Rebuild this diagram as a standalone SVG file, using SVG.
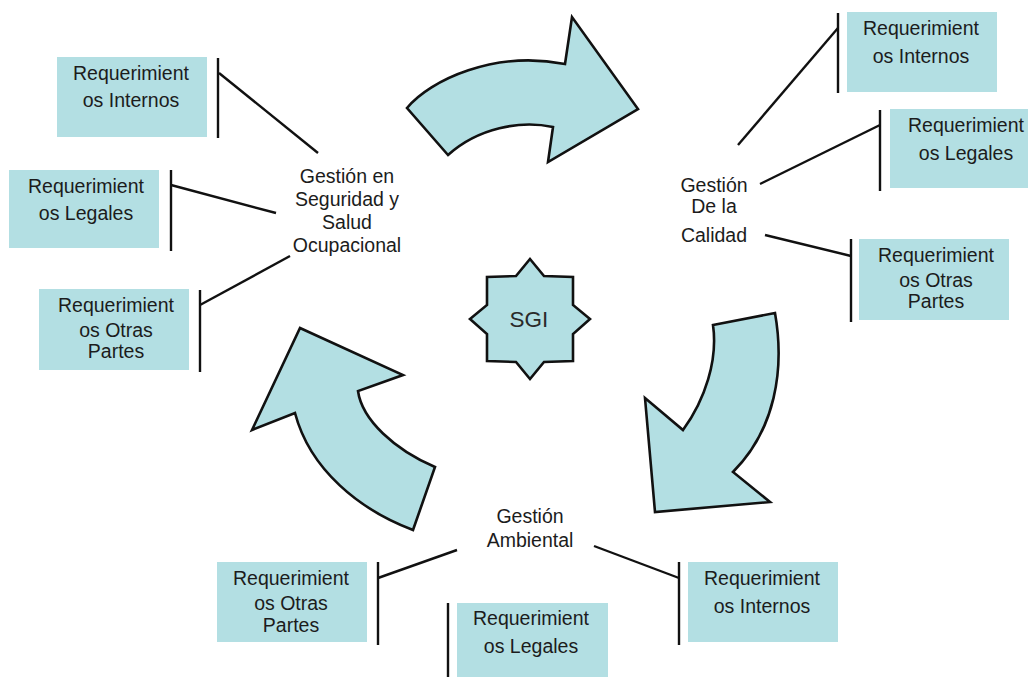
<svg xmlns="http://www.w3.org/2000/svg" width="1028" height="677" viewBox="0 0 1028 677">
<style>
.box{fill:#b3dfe3;}
.shape{fill:#b3dfe3;stroke:#111;stroke-width:2.6;stroke-linejoin:miter;}
.ln{stroke:#111;stroke-width:2.4;fill:none;stroke-linecap:butt;}
.t{font-family:"Liberation Sans",Arial,sans-serif;font-size:19.5px;fill:#1c1c1c;text-anchor:middle;}
.sgi{font-family:"Liberation Sans",Arial,sans-serif;font-size:22.5px;fill:#2a2a2a;text-anchor:middle;}
</style>
<rect width="1028" height="677" fill="#ffffff"/>
<g id="arrows">
<path id="arrow-top" class="shape" d="M407,108 C430,80 495,50 565,64 L572,17 L638,109 L548,162 L553,127 C520,120 478,128 448,155 Z"/>
<path id="arrow-right" class="shape" d="M713,325 L775,313 C785,370 775,430 733,472 L770,502 L655,512 L645,398 L683,430 C705,400 718,360 713,325 Z"/>
<path id="arrow-left" class="shape" d="M300,328 L403,375 L358,391 C362,420 395,450 435,467 L413,530 C360,510 310,470 295,413 L252,430 Z"/>
</g>
<g id="sgi">
<polygon class="shape" points="530,259 544,276 573,277 573,305 590,319 573,334 573,361 544,362 530,379 516,362 487,361 487,334 470,319 487,305 487,277 516,276"/>
<text class="sgi" x="529" y="327">SGI</text>
</g>
<g id="connectors">
<line class="ln" x1="218" y1="58" x2="218" y2="138"/>
<line class="ln" x1="219" y1="73" x2="318" y2="153"/>
<line class="ln" x1="171" y1="170" x2="171" y2="251"/>
<line class="ln" x1="171" y1="185" x2="276" y2="213"/>
<line class="ln" x1="200" y1="290" x2="200" y2="372"/>
<line class="ln" x1="200" y1="305" x2="290" y2="256"/>
<line class="ln" x1="838" y1="13" x2="838" y2="93"/>
<line class="ln" x1="838" y1="28" x2="738" y2="145"/>
<line class="ln" x1="880" y1="110" x2="880" y2="191"/>
<line class="ln" x1="880" y1="125" x2="760" y2="184"/>
<line class="ln" x1="851" y1="239" x2="851" y2="322"/>
<line class="ln" x1="851" y1="256" x2="765" y2="235"/>
<line class="ln" x1="378" y1="562" x2="378" y2="645"/>
<line class="ln" x1="378" y1="578" x2="457" y2="550"/>
<line class="ln" x1="448" y1="603" x2="448" y2="677"/>
<line class="ln" x1="679" y1="562" x2="679" y2="645"/>
<line class="ln" x1="679" y1="578" x2="594" y2="546"/>
</g>
<g id="gestion-sso">
<text class="t" x="347" y="183">Gestión en</text>
<text class="t" x="347" y="206">Seguridad y</text>
<text class="t" x="347" y="229">Salud</text>
<text class="t" x="347" y="252">Ocupacional</text>
</g>
<g id="gestion-calidad">
<text class="t" x="714" y="192">Gestión</text>
<text class="t" x="714" y="213">De la</text>
<text class="t" x="714" y="242">Calidad</text>
</g>
<g id="gestion-ambiental">
<text class="t" x="530" y="523">Gestión</text>
<text class="t" x="530" y="547">Ambiental</text>
</g>
<g id="sso-internos">
<rect class="box" x="57" y="57" width="150" height="80"/>
<text class="t" x="131" y="80">Requerimient</text>
<text class="t" x="131" y="107">os Internos</text>
</g>
<g id="sso-legales">
<rect class="box" x="9" y="170" width="150" height="78"/>
<text class="t" x="86" y="193">Requerimient</text>
<text class="t" x="86" y="220">os Legales</text>
</g>
<g id="sso-otras">
<rect class="box" x="39" y="289" width="150" height="81"/>
<text class="t" x="116" y="312">Requerimient</text>
<text class="t" x="116" y="337">os Otras</text>
<text class="t" x="116" y="358">Partes</text>
</g>
<g id="cal-internos">
<rect class="box" x="847" y="12" width="150" height="80"/>
<text class="t" x="921" y="35">Requerimient</text>
<text class="t" x="921" y="63">os Internos</text>
</g>
<g id="cal-legales">
<rect class="box" x="890" y="109" width="150" height="79"/>
<text class="t" x="966" y="132">Requerimient</text>
<text class="t" x="966" y="160">os Legales</text>
</g>
<g id="cal-otras">
<rect class="box" x="859" y="239" width="150" height="81"/>
<text class="t" x="936" y="262">Requerimient</text>
<text class="t" x="936" y="287">os Otras</text>
<text class="t" x="936" y="308">Partes</text>
</g>
<g id="amb-otras">
<rect class="box" x="217" y="562" width="150" height="80"/>
<text class="t" x="291" y="585">Requerimient</text>
<text class="t" x="291" y="610">os Otras</text>
<text class="t" x="291" y="632">Partes</text>
</g>
<g id="amb-legales">
<rect class="box" x="457" y="603" width="151" height="80"/>
<text class="t" x="531" y="625">Requerimient</text>
<text class="t" x="531" y="653">os Legales</text>
</g>
<g id="amb-internos">
<rect class="box" x="688" y="562" width="150" height="80"/>
<text class="t" x="762" y="585">Requerimient</text>
<text class="t" x="762" y="613">os Internos</text>
</g>
</svg>
